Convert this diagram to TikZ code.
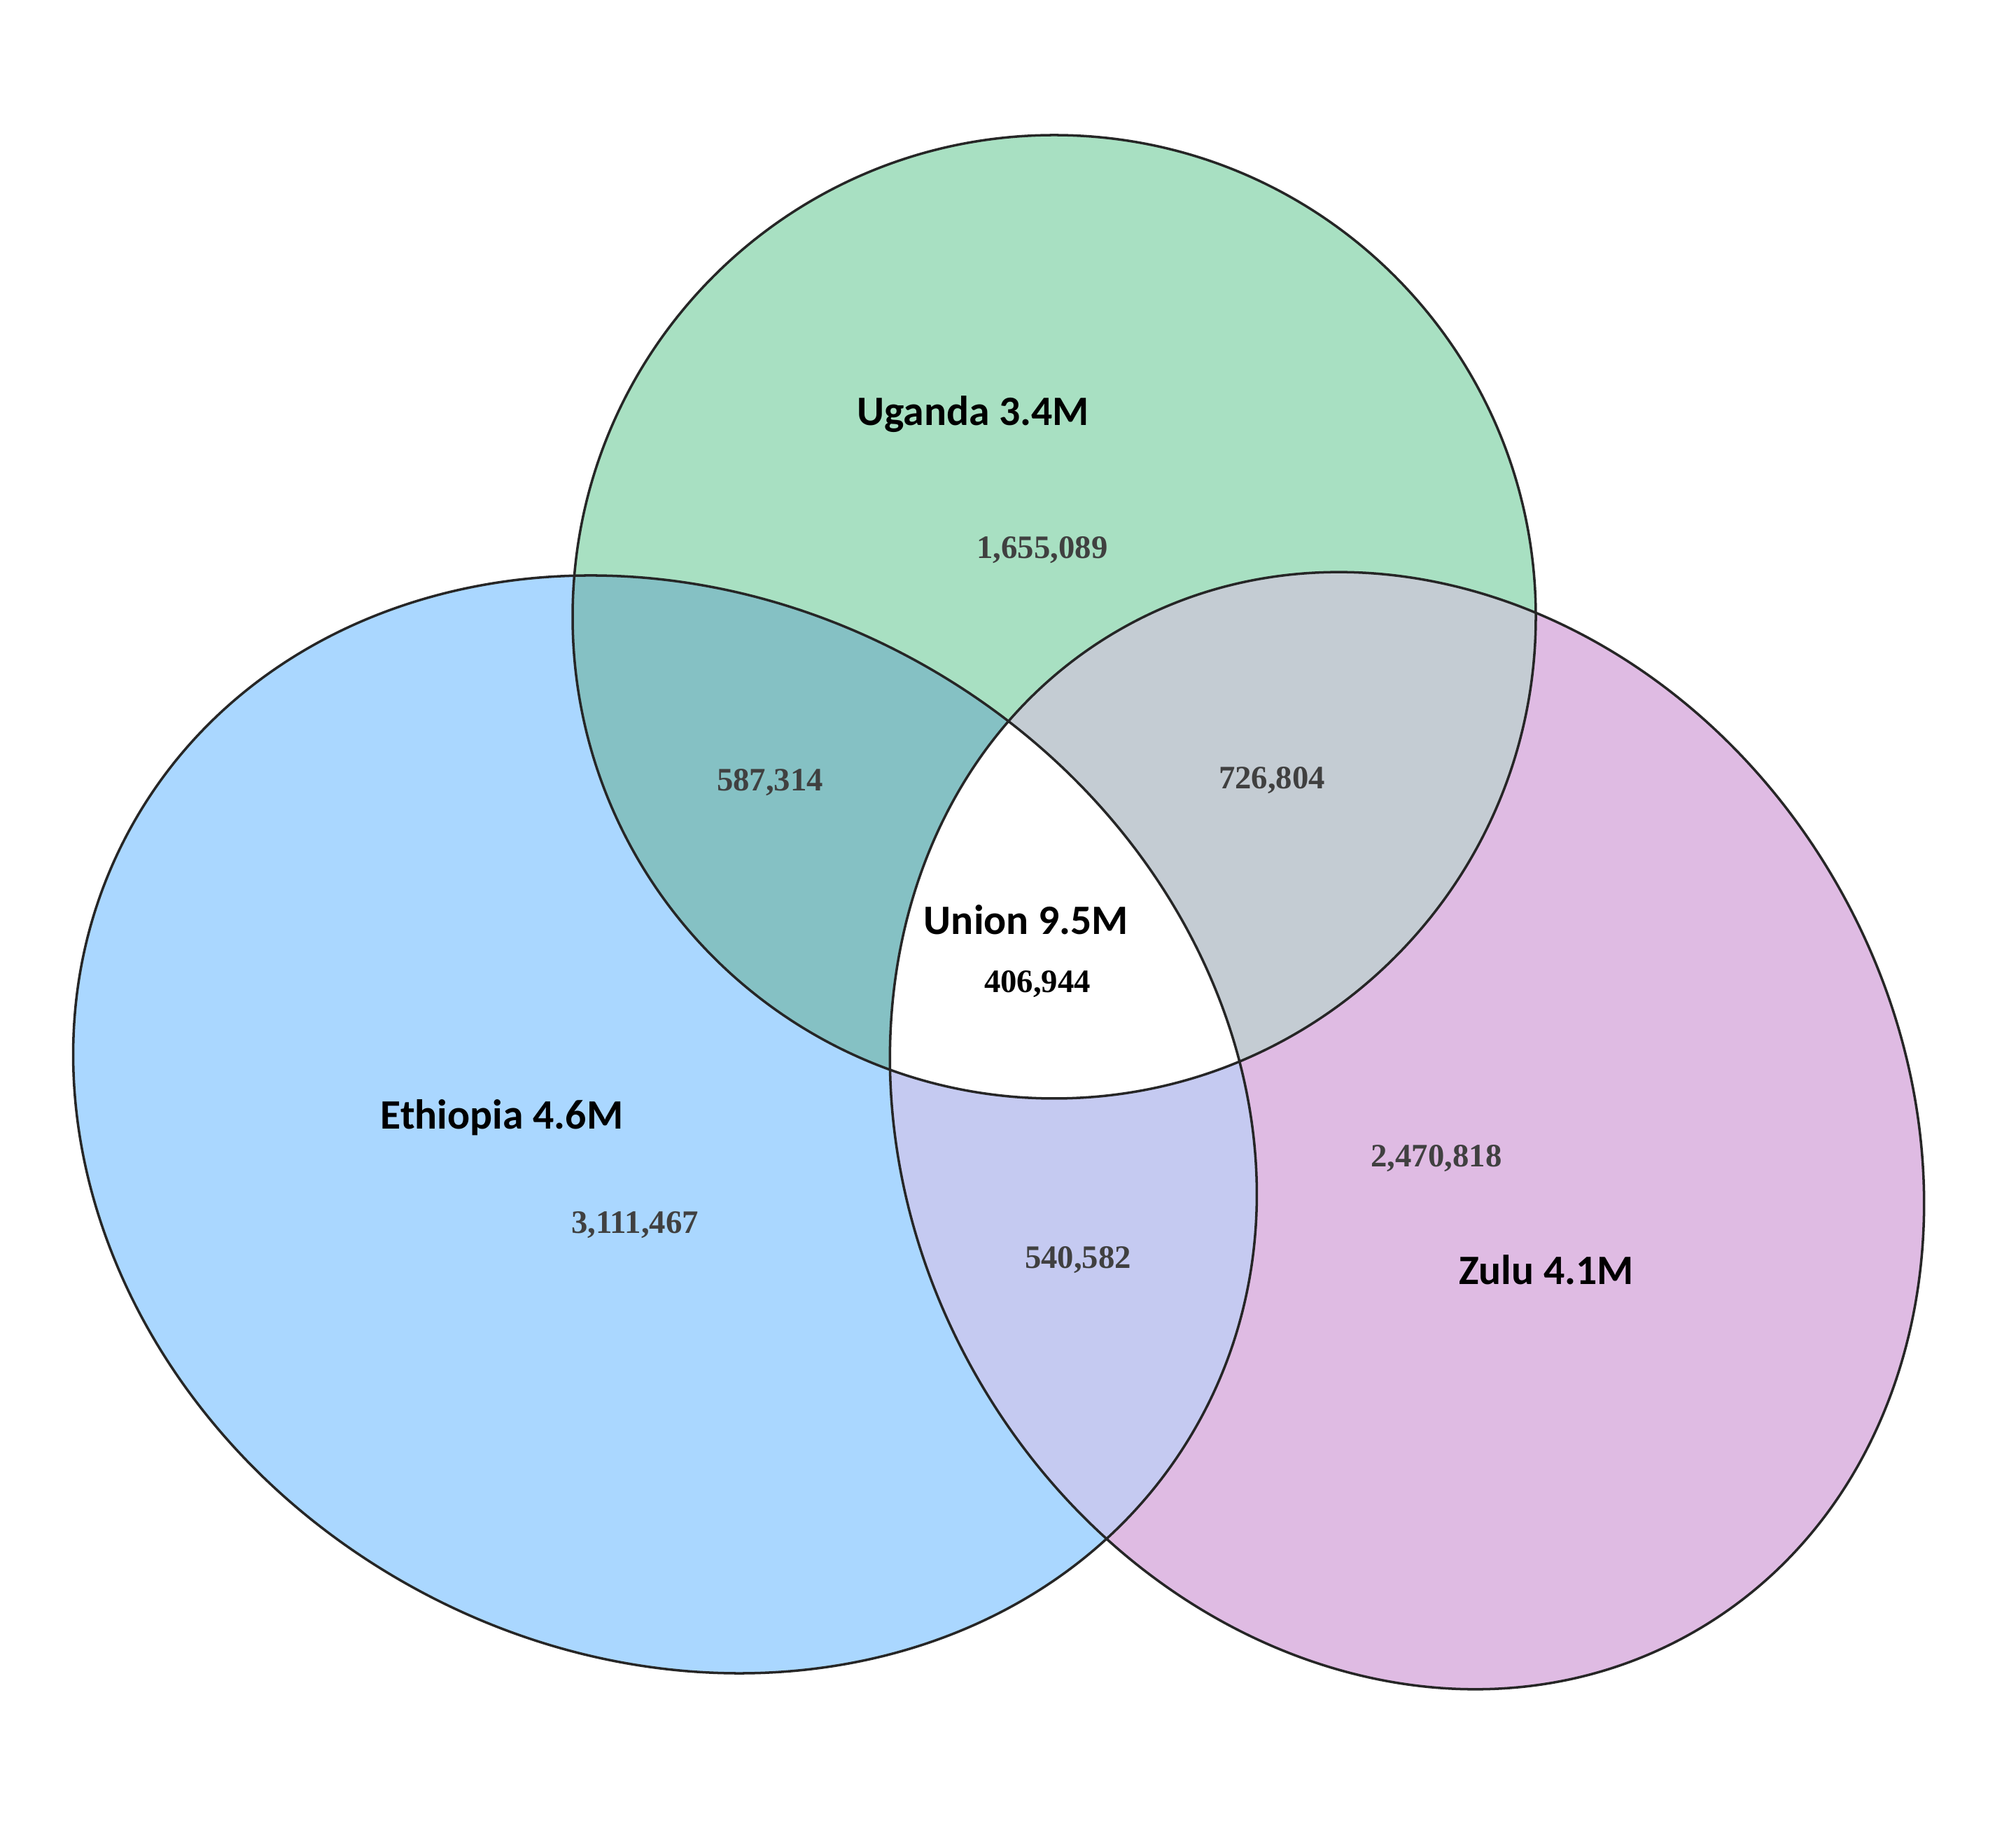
\documentclass[tikz,border=0pt]{standalone}
\usepackage{fontspec}
\setmainfont{Liberation Serif}
\newfontfamily\setfont{Carlito}
\definecolor{ethblue}{RGB}{170,215,255}
\definecolor{ugagreen}{RGB}{168,224,194}
\definecolor{zulpink}{RGB}{223,187,227}
\definecolor{ethuga}{RGB}{133,193,196}
\definecolor{ugazul}{RGB}{196,204,211}
\definecolor{ethzul}{RGB}{197,202,241}
\definecolor{numgray}{RGB}{64,64,64}
\def\ethset{(9.50,9.94) ellipse [x radius=8.73, y radius=7.53]}
\def\zulset{(20.10,9.85) ellipse [x radius=7.08, y radius=8.25]}
\def\ugaset{(15.06,17.19) circle [radius=6.88]}

\begin{document}
\begin{tikzpicture}
\tikzset{setname/.style={font=\setfont\bfseries\fontsize{17}{20}\selectfont, anchor=base, inner sep=0pt},
  count/.style={font=\bfseries\fontsize{13.3}{16}\selectfont, text=numgray, anchor=base, inner sep=0pt},
  ethiopia/.style={rotate around={-29.6:(9.50,9.94)}},
  zulu/.style={rotate around={29.8:(20.10,9.85)}},
  outline/.style={draw=black!85, line width=1pt}}
\useasboundingbox (0,0) rectangle (28.8,26);
\fill[white] (0,0) rectangle (28.8,26);
% the three sets
\fill[ethblue, ethiopia] \ethset;
\fill[ugagreen] \ugaset;
\fill[zulpink, zulu] \zulset;
% pairwise overlaps
\begin{scope}
\clip[ethiopia] \ethset;
\fill[ethuga] \ugaset;
\fill[ethzul, zulu] \zulset;
\end{scope}
\begin{scope}
\clip \ugaset;
\fill[ugazul, zulu] \zulset;
\end{scope}
% all three
\begin{scope}
\clip[ethiopia] \ethset;
\clip \ugaset;
\fill[white, zulu] \zulset;
\end{scope}
\draw[outline, ethiopia] \ethset;
\draw[outline] \ugaset;
\draw[outline, zulu] \zulset;
% labels
\node[setname] (uganda) at (13.90,19.92) {Uganda 3.4M};
\node[setname] (ethiop) at (7.17,9.87) {Ethiopia 4.6M};
\node[setname] (zulu) at (22.09,7.65) {Zulu 4.1M};
\node[setname] (union) at (14.66,12.65) {Union 9.5M};
\node[count] (uonly) at (14.89,18.02) {1,655,089};
\node[count] (eonly) at (9.07,8.38) {3,111,467};
\node[count] (zonly) at (20.52,9.33) {2,470,818};
\node[count] (eu) at (11.00,14.70) {587,314};
\node[count] (uz) at (18.17,14.73) {726,804};
\node[count] (ez) at (15.40,7.88) {540,582};
\node[count, text=black] (euz) at (14.82,11.82) {406,944};
\end{tikzpicture}
\end{document}
